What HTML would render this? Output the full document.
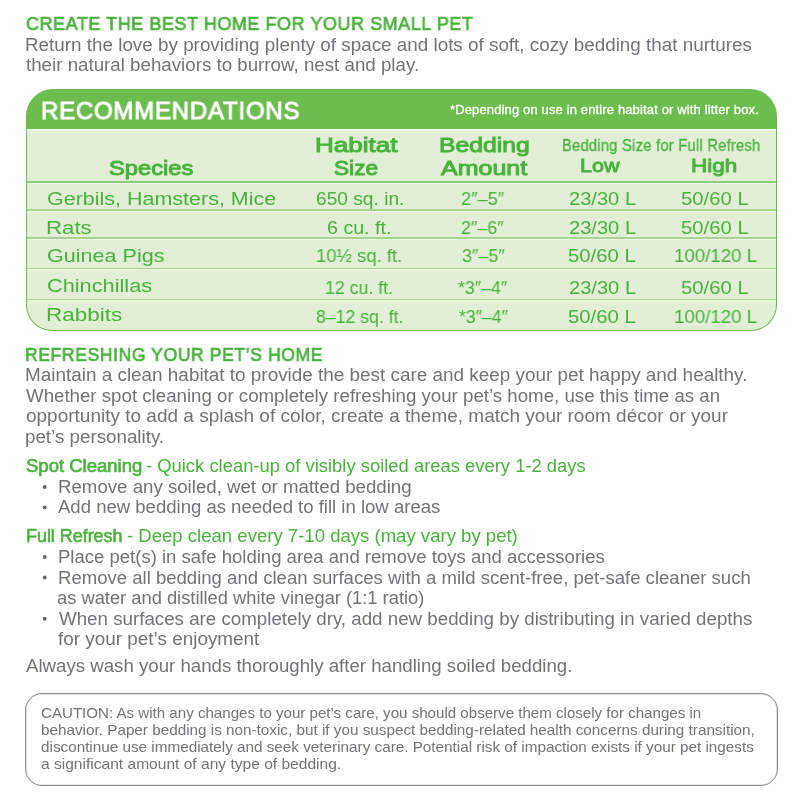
<!DOCTYPE html>
<html><head><meta charset="utf-8">
<style>
html,body{margin:0;padding:0;background:#fff;}
body{width:800px;height:800px;position:relative;overflow:hidden;font-family:"Liberation Sans", sans-serif;}
.t{position:absolute;white-space:nowrap;line-height:1;transform-origin:0 0;will-change:transform;font-family:"Liberation Sans", sans-serif;}
.tbl{position:absolute;left:25.8px;top:89px;width:751.4px;height:242px;border-radius:27px 27px 26px 26px;background:#6bbd4e;overflow:hidden;}
.wline{position:absolute;left:1.2px;right:1.2px;top:39.8px;height:1.8px;background:#f4f9ef;}
.body{position:absolute;left:1.2px;right:1.2px;top:41.6px;bottom:1.3px;background:#e2eed6;border-radius:0 0 25px 25px;}
.sep{position:absolute;left:0;right:0;height:1.6px;background:#a8d393;box-shadow:0 1.2px 0 #eef6e9;}
.sep0{background:#8fcd7c;}
.caution{position:absolute;left:25px;top:693px;width:751px;height:91px;border:1px solid #8e8e8e;border-radius:17px;box-shadow:inset 0 0 0 0.6px rgba(160,160,160,0.5);}
.dot{position:absolute;width:3.8px;height:3.8px;border-radius:50%;background:#68686b;}
</style></head><body>
<div class="tbl">
  <div class="wline"></div>
  <div class="body">
    <div class="sep sep0" style="top:50.6px"></div>
    <div class="sep" style="top:78.8px"></div>
    <div class="sep" style="top:106.7px"></div>
    <div class="sep" style="top:137.2px"></div>
    <div class="sep" style="top:168.2px"></div>
  </div>
</div>
<div class="caution"></div>
<svg style="position:absolute;left:0;top:0" width="800" height="800" viewBox="0 0 800 800"><circle cx="44.7" cy="487" r="1.95" fill="#68686b"/><circle cx="44.7" cy="507.5" r="1.95" fill="#68686b"/><circle cx="44.7" cy="557" r="1.95" fill="#68686b"/><circle cx="44.7" cy="577.5" r="1.95" fill="#68686b"/><circle cx="44.7" cy="618.75" r="1.95" fill="#68686b"/></svg>
<div class="t" style="left:25.89px;top:15px;font-size:18.8px;color:#48b33b;transform:scaleX(0.9561);letter-spacing:0.6px;-webkit-text-stroke:0.7px #48b33b;">CREATE THE BEST HOME FOR YOUR SMALL PET</div>
<div class="t" style="left:24.95px;top:37px;font-size:17.5px;color:#727376;transform:scaleX(1.0766);">Return the love by providing plenty of space and lots of soft, cozy bedding that nurtures</div>
<div class="t" style="left:26.20px;top:57px;font-size:17.5px;color:#727376;transform:scaleX(1.0700);">their natural behaviors to burrow, nest and play.</div>
<div class="t" style="left:40.96px;top:99px;font-size:24.8px;color:#ffffff;transform:scaleX(0.9680);letter-spacing:0.8px;-webkit-text-stroke:1.0px #ffffff;">RECOMMENDATIONS</div>
<div class="t" style="left:449.85px;top:104px;font-size:12.6px;color:#ffffff;transform:scaleX(1.0292);letter-spacing:0.15px;-webkit-text-stroke:0.3px #ffffff;">*Depending on use in entire habitat or with litter box.</div>
<div class="t" style="left:109.38px;top:158px;font-size:20.6px;color:#48b33b;transform:scaleX(1.1499);-webkit-text-stroke:0.95px #48b33b;">Species</div>
<div class="t" style="left:314.71px;top:135px;font-size:20.6px;color:#48b33b;transform:scaleX(1.2642);-webkit-text-stroke:0.95px #48b33b;">Habitat</div>
<div class="t" style="left:334.40px;top:158px;font-size:20.6px;color:#48b33b;transform:scaleX(1.0994);-webkit-text-stroke:0.95px #48b33b;">Size</div>
<div class="t" style="left:438.54px;top:135px;font-size:20.6px;color:#48b33b;transform:scaleX(1.1995);-webkit-text-stroke:0.95px #48b33b;">Bedding</div>
<div class="t" style="left:440.94px;top:158px;font-size:20.6px;color:#48b33b;transform:scaleX(1.2139);-webkit-text-stroke:0.95px #48b33b;">Amount</div>
<div class="t" style="left:561.83px;top:138px;font-size:16px;color:#48b33b;transform:scaleX(0.9157);letter-spacing:0.3px;-webkit-text-stroke:0.3px #48b33b;">Bedding Size for Full Refresh</div>
<div class="t" style="left:580.39px;top:156px;font-size:19px;color:#48b33b;transform:scaleX(1.1307);-webkit-text-stroke:0.9px #48b33b;">Low</div>
<div class="t" style="left:691.02px;top:156px;font-size:19px;color:#48b33b;transform:scaleX(1.1821);-webkit-text-stroke:0.9px #48b33b;">High</div>
<div class="t" style="left:46.87px;top:190px;font-size:18.9px;color:#48b33b;transform:scaleX(1.1371);">Gerbils, Hamsters, Mice</div>
<div class="t" style="left:315.50px;top:190px;font-size:18.9px;color:#48b33b;transform:scaleX(1.0138);">650 sq. in.</div>
<div class="t" style="left:461.00px;top:190px;font-size:18.9px;color:#48b33b;transform:scaleX(0.9616);">2″–5″</div>
<div class="t" style="left:568.98px;top:190px;font-size:18.9px;color:#48b33b;transform:scaleX(1.0641);">23/30 L</div>
<div class="t" style="left:681.42px;top:190px;font-size:18.9px;color:#48b33b;transform:scaleX(1.0736);">50/60 L</div>
<div class="t" style="left:46.18px;top:219px;font-size:18.9px;color:#48b33b;transform:scaleX(1.1768);">Rats</div>
<div class="t" style="left:327.48px;top:219px;font-size:18.9px;color:#48b33b;transform:scaleX(1.0395);">6 cu. ft.</div>
<div class="t" style="left:461.00px;top:219px;font-size:18.9px;color:#48b33b;transform:scaleX(0.9476);">2″–6″</div>
<div class="t" style="left:568.98px;top:219px;font-size:18.9px;color:#48b33b;transform:scaleX(1.0641);">23/30 L</div>
<div class="t" style="left:681.42px;top:219px;font-size:18.9px;color:#48b33b;transform:scaleX(1.0736);">50/60 L</div>
<div class="t" style="left:46.87px;top:247px;font-size:18.9px;color:#48b33b;transform:scaleX(1.1411);">Guinea Pigs</div>
<div class="t" style="left:315.95px;top:247px;font-size:18.9px;color:#48b33b;transform:scaleX(0.9772);">10½ sq. ft.</div>
<div class="t" style="left:461.66px;top:247px;font-size:18.9px;color:#48b33b;transform:scaleX(0.9510);">3″–5″</div>
<div class="t" style="left:568.32px;top:247px;font-size:18.9px;color:#48b33b;transform:scaleX(1.0736);">50/60 L</div>
<div class="t" style="left:674.15px;top:247px;font-size:18.9px;color:#48b33b;transform:scaleX(0.9891);">100/120 L</div>
<div class="t" style="left:46.86px;top:277px;font-size:18.9px;color:#48b33b;transform:scaleX(1.1504);">Chinchillas</div>
<div class="t" style="left:324.98px;top:279px;font-size:18.9px;color:#48b33b;transform:scaleX(0.9386);">12 cu. ft.</div>
<div class="t" style="left:458.02px;top:279px;font-size:18.9px;color:#48b33b;transform:scaleX(0.9430);">*3″–4″</div>
<div class="t" style="left:568.98px;top:279px;font-size:18.9px;color:#48b33b;transform:scaleX(1.0641);">23/30 L</div>
<div class="t" style="left:681.42px;top:279px;font-size:18.9px;color:#48b33b;transform:scaleX(1.0736);">50/60 L</div>
<div class="t" style="left:46.16px;top:306px;font-size:18.9px;color:#48b33b;transform:scaleX(1.1921);">Rabbits</div>
<div class="t" style="left:315.60px;top:308px;font-size:18.9px;color:#48b33b;transform:scaleX(0.9348);">8–12 sq. ft.</div>
<div class="t" style="left:458.52px;top:308px;font-size:18.9px;color:#48b33b;transform:scaleX(0.9364);">*3″–4″</div>
<div class="t" style="left:568.32px;top:308px;font-size:18.9px;color:#48b33b;transform:scaleX(1.0736);">50/60 L</div>
<div class="t" style="left:674.15px;top:308px;font-size:18.9px;color:#48b33b;transform:scaleX(0.9891);">100/120 L</div>
<div class="t" style="left:25.34px;top:346px;font-size:18.8px;color:#48b33b;transform:scaleX(0.9375);letter-spacing:0.6px;-webkit-text-stroke:0.7px #48b33b;">REFRESHING YOUR PET’S HOME</div>
<div class="t" style="left:24.94px;top:367px;font-size:17.5px;color:#727376;transform:scaleX(1.0798);">Maintain a clean habitat to provide the best care and keep your pet happy and healthy.</div>
<div class="t" style="left:26.25px;top:388px;font-size:17.5px;color:#727376;transform:scaleX(1.0672);">Whether spot cleaning or completely refreshing your pet’s home, use this time as an</div>
<div class="t" style="left:25.65px;top:408px;font-size:17.5px;color:#727376;transform:scaleX(1.0852);">opportunity to add a splash of color, create a theme, match your room décor or your</div>
<div class="t" style="left:25.25px;top:429px;font-size:17.5px;color:#727376;transform:scaleX(1.0723);">pet’s personality.</div>
<div class="t" style="left:25.97px;top:458px;font-size:17.5px;color:#48b33b;transform:scaleX(1.0580);-webkit-text-stroke:0.6px #48b33b;">Spot Cleaning</div>
<div class="t" style="left:145.88px;top:458px;font-size:17.5px;color:#48b33b;transform:scaleX(1.0514);">- Quick clean-up of visibly soiled areas every 1-2 days</div>
<div class="t" style="left:57.76px;top:479px;font-size:17.5px;color:#727376;transform:scaleX(1.0660);">Remove any soiled, wet or matted bedding</div>
<div class="t" style="left:58.45px;top:499px;font-size:17.5px;color:#727376;transform:scaleX(1.0591);">Add new bedding as needed to fill in low areas</div>
<div class="t" style="left:25.53px;top:528px;font-size:17.5px;color:#48b33b;transform:scaleX(1.0222);-webkit-text-stroke:0.6px #48b33b;">Full Refresh</div>
<div class="t" style="left:126.87px;top:528px;font-size:17.5px;color:#48b33b;transform:scaleX(1.0601);">- Deep clean every 7-10 days (may vary by pet)</div>
<div class="t" style="left:57.77px;top:549px;font-size:17.5px;color:#727376;transform:scaleX(1.0585);">Place pet(s) in safe holding area and remove toys and accessories</div>
<div class="t" style="left:57.77px;top:570px;font-size:17.5px;color:#727376;transform:scaleX(1.0598);">Remove all bedding and clean surfaces with a mild scent-free, pet-safe cleaner such</div>
<div class="t" style="left:57.37px;top:590px;font-size:17.5px;color:#727376;transform:scaleX(1.0461);">as water and distilled white vinegar (1:1 ratio)</div>
<div class="t" style="left:58.55px;top:611px;font-size:17.5px;color:#727376;transform:scaleX(1.0707);">When surfaces are completely dry, add new bedding by distributing in varied depths</div>
<div class="t" style="left:57.91px;top:631px;font-size:17.5px;color:#727376;transform:scaleX(1.0801);">for your pet’s enjoyment</div>
<div class="t" style="left:26.25px;top:658px;font-size:17.5px;color:#727376;transform:scaleX(1.0656);">Always wash your hands thoroughly after handling soiled bedding.</div>
<div class="t" style="left:41.19px;top:706px;font-size:14.5px;color:#727376;transform:scaleX(1.0413);">CAUTION: As with any changes to your pet’s care, you should observe them closely for changes in</div>
<div class="t" style="left:40.98px;top:723px;font-size:14.5px;color:#727376;transform:scaleX(1.0529);">behavior. Paper bedding is non-toxic, but if you suspect bedding-related health concerns during transition,</div>
<div class="t" style="left:41.31px;top:740px;font-size:14.5px;color:#727376;transform:scaleX(1.0529);">discontinue use immediately and seek veterinary care. Potential risk of impaction exists if your pet ingests</div>
<div class="t" style="left:41.29px;top:757px;font-size:14.5px;color:#727376;transform:scaleX(1.0730);">a significant amount of any type of bedding.</div>
</body></html>
